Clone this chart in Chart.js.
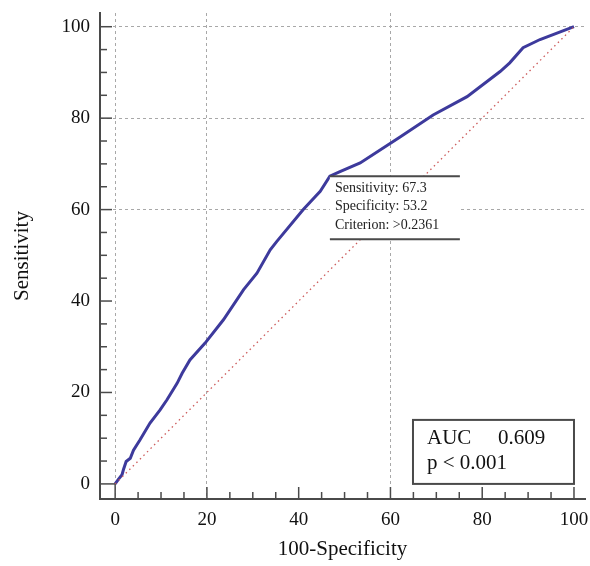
<!DOCTYPE html>
<html>
<head>
<meta charset="utf-8">
<script src="https://cdn.jsdelivr.net/npm/chart.js@4.4.1/dist/chart.umd.min.js"></script>
<style>
html,body{margin:0;padding:0;background:#fff}
#wrap{width:590px;height:566px}
</style>
</head>
<body>
<div id="wrap"><canvas id="roc" width="590" height="566"></canvas></div>
<script>
// ROC curve (100-Specificity vs Sensitivity)
const rocX=[0,0.7,1.5,1.8,2.4,3.3,4,5.4,7.6,9.8,11.3,13.5,14.6,16.3,19.6,23.6,28,30.9,33.8,35.2,41,44.7,46.8,49,53.4,62.1,69.3,76.7,83.9,86,88.9,92.6,100];
const rocY=[0,1,2,3.1,4.9,5.6,7.4,9.6,13.3,16.2,18.4,22,24.2,27.1,30.8,35.9,42.5,46.1,51.2,53,60,64,67.3,68.3,70.2,75.9,80.7,84.7,90.2,92.1,95.4,97.2,100];
const diagX=[0,100];
const diagY=[0,100];
const xTicks=[0,20,40,60,80,100];
const yTicks=[0,20,40,60,80,100];
const xGridAt=[0,20,60];
const yGridAt=[60,80,100];
const cutX=46.8, cutY=67.3;
const calloutLines=["Sensitivity: 67.3","Specificity: 53.2","Criterion: >0.2361"];
const aucLabel="AUC", aucValue="0.609", pLabel="p < 0.001";

const $=id=>document.getElementById(id);
const serif="'Liberation Serif','Times New Roman',serif";
const ink="#111", axisCol="#4a4a4a";
const pts=(xs,ys)=>xs.map((x,i)=>({x,y:ys[i]}));

const extras={
  id:"extras",
  afterDraw(chart){
    const {ctx}=chart, xs=chart.scales.x, ys=chart.scales.y, a=chart.chartArea;
    const x0=xs.getPixelForValue(0), y0=ys.getPixelForValue(0);
    ctx.save();
    ctx.strokeStyle=axisCol; ctx.lineWidth=1.5;
    // minor + major ticks, pointing inward
    for(let v=0;v<=100;v+=5){
      const major=v%20===0;
      const px=xs.getPixelForValue(v);
      const lx=v===0?a.bottom-y0:(major?12:7);
      ctx.beginPath();ctx.moveTo(px,a.bottom);ctx.lineTo(px,a.bottom-lx);ctx.stroke();
      const py=ys.getPixelForValue(v);
      const ly=v===0?x0-a.left:(major?12:7);
      ctx.beginPath();ctx.moveTo(a.left,py);ctx.lineTo(a.left+ly,py);ctx.stroke();
    }
    // callout at the cut-off point
    const cx=xs.getPixelForValue(cutX), cy=ys.getPixelForValue(cutY);
    const cw=130, ch=63;
    ctx.fillStyle="#fff"; ctx.fillRect(cx,cy,cw,ch);
    ctx.lineWidth=2; ctx.strokeStyle=axisCol;
    ctx.beginPath();ctx.moveTo(cx,cy);ctx.lineTo(cx+cw,cy);ctx.moveTo(cx,cy+ch);ctx.lineTo(cx+cw,cy+ch);ctx.stroke();
    ctx.fillStyle="#222"; ctx.font="14px "+serif; ctx.textBaseline="middle"; ctx.textAlign="left";
    calloutLines.forEach((t,i)=>ctx.fillText(t,cx+5,cy+12+i*18.5));
    // AUC box, anchored at bottom-right of the data range
    const bw=161, bh=64;
    const bx=xs.getPixelForValue(100)-bw, by=ys.getPixelForValue(0)-bh;
    ctx.fillStyle="#fff"; ctx.fillRect(bx,by,bw,bh);
    ctx.strokeRect(bx,by,bw,bh);
    ctx.fillStyle=ink; ctx.font="21px "+serif;
    ctx.fillText(aucLabel,bx+14,by+19);
    ctx.fillText(aucValue,bx+85,by+19);
    ctx.fillText(pLabel,bx+14,by+44);
    ctx.restore();
  }
};

const axisCommon=(gridAt,title,titlePad)=>({
  type:"linear",
  afterBuildTicks:s=>{s.ticks=(s.axis==="x"?xTicks:yTicks).map(v=>({value:v}))},
  grid:{drawTicks:false,lineWidth:1,color:c=>gridAt.includes(c.tick&&c.tick.value)?"#a8a8a8":"rgba(0,0,0,0)"},
  border:{display:true,color:axisCol,width:2,dash:[3,3]},
  ticks:{padding:10,color:ink,font:{family:serif,size:19}},
  title:{display:true,text:title,color:ink,font:{family:serif,size:21},padding:titlePad}
});

const xAxis=Object.assign(axisCommon(xGridAt,"100-Specificity",{top:0,bottom:4}),{min:-3.3,max:102.4,
  afterFit:s=>{s.height=67;s.paddingLeft=0;s.paddingRight=0}});
const yAxis=Object.assign(axisCommon(yGridAt,"Sensitivity",{top:10,bottom:0}),{min:-3.3,max:103,
  afterFit:s=>{s.width=100;s.paddingTop=0;s.paddingBottom=0}});

new Chart($("roc"),{
  type:"scatter",
  data:{datasets:[
    {label:"diag",data:pts(diagX,diagY),showLine:true,borderColor:"#cc5a5a",borderWidth:1.3,borderDash:[1.5,3.5],pointRadius:0},
    {label:"ROC",data:pts(rocX,rocY),showLine:true,borderColor:"#3d3a9c",borderWidth:3,pointRadius:0,tension:0}
  ]},
  options:{
    responsive:false,animation:false,
    layout:{padding:{top:13,right:5,left:0,bottom:0}},
    plugins:{legend:{display:false},tooltip:{enabled:false}},
    scales:{x:xAxis,y:yAxis}
  },
  plugins:[extras]
});
</script>
</body>
</html>
